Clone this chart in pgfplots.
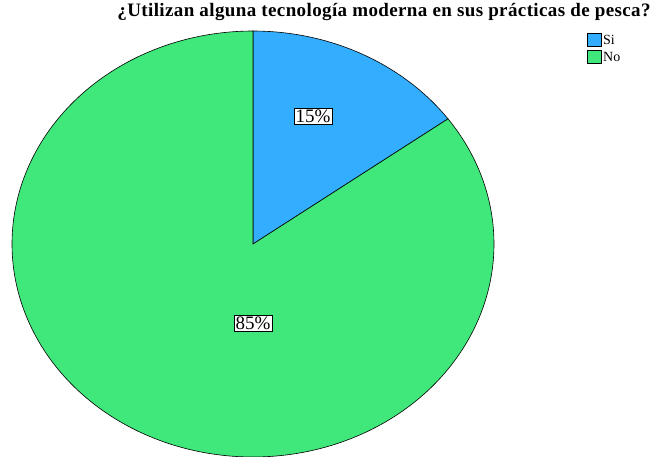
\documentclass[border=0pt]{standalone}
\usepackage{pgfplots}
\pgfplotsset{compat=1.18}
\usepackage{fontspec}
\setmainfont{Liberation Serif}
\definecolor{siblue}{HTML}{33AEFF}
\definecolor{nogreen}{HTML}{40E87C}
\begin{document}
\begin{tikzpicture}
% data (percent)
\def\valSi{15}
\def\valNo{85}
\pgfmathsetmacro{\aStart}{90}
\pgfmathsetmacro{\aSi}{90-3.6*\valSi}
\pgfmathsetmacro{\aNo}{\aSi-3.6*\valNo}
\begin{axis}[
  width=655pt, height=456pt, scale only axis,
  xmin=0, xmax=655, ymin=0, ymax=456,
  hide axis, clip=true,
]
\addplot[fill=siblue, draw=black, line width=0.6pt, domain=\aSi:\aStart, samples=80, variable=\t]
  ({253+241*cos(\t)},{212+213*sin(\t)}) -- (axis cs:253,212) -- cycle;
\addplot[fill=nogreen, draw=black, line width=0.6pt, domain=\aNo:\aSi, samples=300, variable=\t]
  ({253+241*cos(\t)},{212+213*sin(\t)}) -- (axis cs:253,212) -- cycle;
\end{axis}
\begin{axis}[
  width=655pt, height=456pt, scale only axis,
  xmin=0, xmax=655, ymin=0, ymax=456,
  hide axis, clip=false,
]
\node[draw=black, line width=0.5pt, fill=white, inner sep=1.5pt, font=\fontsize{19}{21}\selectfont] at (axis cs:313,340) {15\%};
\node[draw=black, line width=0.5pt, fill=white, inner sep=1.5pt, font=\fontsize{19}{21}\selectfont] at (axis cs:253,133) {85\%};
\node[anchor=base, font=\bfseries\fontsize{19}{22}\selectfont\addfontfeature{LetterSpace=2}] at (axis cs:384,439) {¿Utilizan alguna tecnología moderna en sus prácticas de pesca?};
% legend
\addplot[fill=siblue, draw=black, line width=0.5pt] coordinates {(587,423) (601,423) (601,410) (587,410)} -- cycle;
\addplot[fill=nogreen, draw=black, line width=0.5pt] coordinates {(587,406) (601,406) (601,393) (587,393)} -- cycle;
\node[anchor=west, inner sep=0pt, font=\fontsize{14}{16}\selectfont] at (axis cs:603,416) {Si};
\node[anchor=west, inner sep=0pt, font=\fontsize{14}{16}\selectfont] at (axis cs:603,399) {No};
\end{axis}
\pgfresetboundingbox
\path[use as bounding box] (current axis.south west) rectangle (current axis.north east);
\end{tikzpicture}
\end{document}
